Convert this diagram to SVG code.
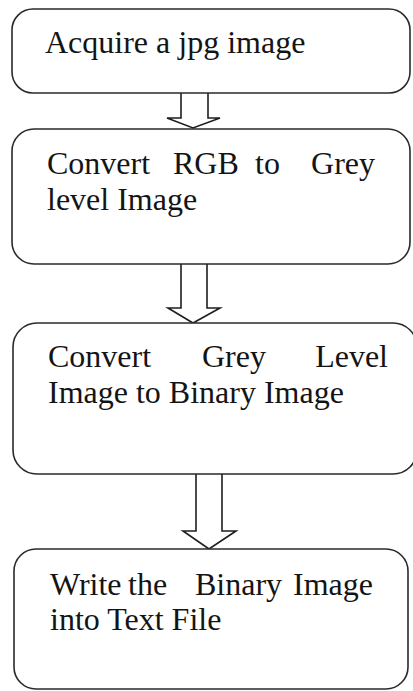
<svg xmlns="http://www.w3.org/2000/svg" width="413" height="691" viewBox="0 0 413 691">
  <style>
    .box { fill: #ffffff; stroke: #2a2a2a; stroke-width: 1.6; }
    .arrow { fill: #ffffff; stroke: #1e1e1e; stroke-width: 1.6; stroke-linejoin: miter; }
    .label { font-family: "Liberation Serif", "Times New Roman", serif; font-size: 32px; fill: #141414; }
    .end { text-anchor: end; }
  </style>
  <rect width="413" height="691" fill="#ffffff"/>

  <!-- block arrows between steps -->
  <g id="connectors">
    <path class="arrow" d="M181,93 V118 H167 L193,128 L220,118 H208 V93"/>
    <path class="arrow" d="M181,264 V308 H168 L193,323 L220,308 H207 V264"/>
    <path class="arrow" d="M196,474 V531 H183 L209,549 L236,531 H222 V474"/>
  </g>

  <g id="step-acquire">
    <rect class="box" x="12" y="9" width="398" height="84" rx="21"/>
    <text class="label" x="45" y="53">Acquire a jpg image</text>
  </g>

  <g id="step-grey">
    <rect class="box" x="12" y="129" width="398" height="135" rx="22"/>
    <text class="label" y="174"><tspan x="47">Convert</tspan><tspan x="173">RGB</tspan><tspan x="255">to</tspan></text>
    <text class="label end" x="375" y="174">Grey</text>
    <text class="label" x="47" y="210">level Image</text>
  </g>

  <g id="step-binary">
    <rect class="box" x="13" y="323" width="404" height="151" rx="24"/>
    <text class="label" y="367"><tspan x="48">Convert</tspan><tspan x="202">Grey</tspan></text>
    <text class="label end" x="388" y="367">Level</text>
    <text class="label" x="48" y="403">Image to Binary Image</text>
  </g>

  <g id="step-write">
    <rect class="box" x="14" y="549" width="394" height="140" rx="22"/>
    <text class="label" y="595"><tspan x="50">Write</tspan><tspan x="128">the</tspan><tspan x="195">Binary</tspan></text>
    <text class="label end" x="373" y="595">Image</text>
    <text class="label" x="50" y="630">into Text File</text>
  </g>
</svg>
